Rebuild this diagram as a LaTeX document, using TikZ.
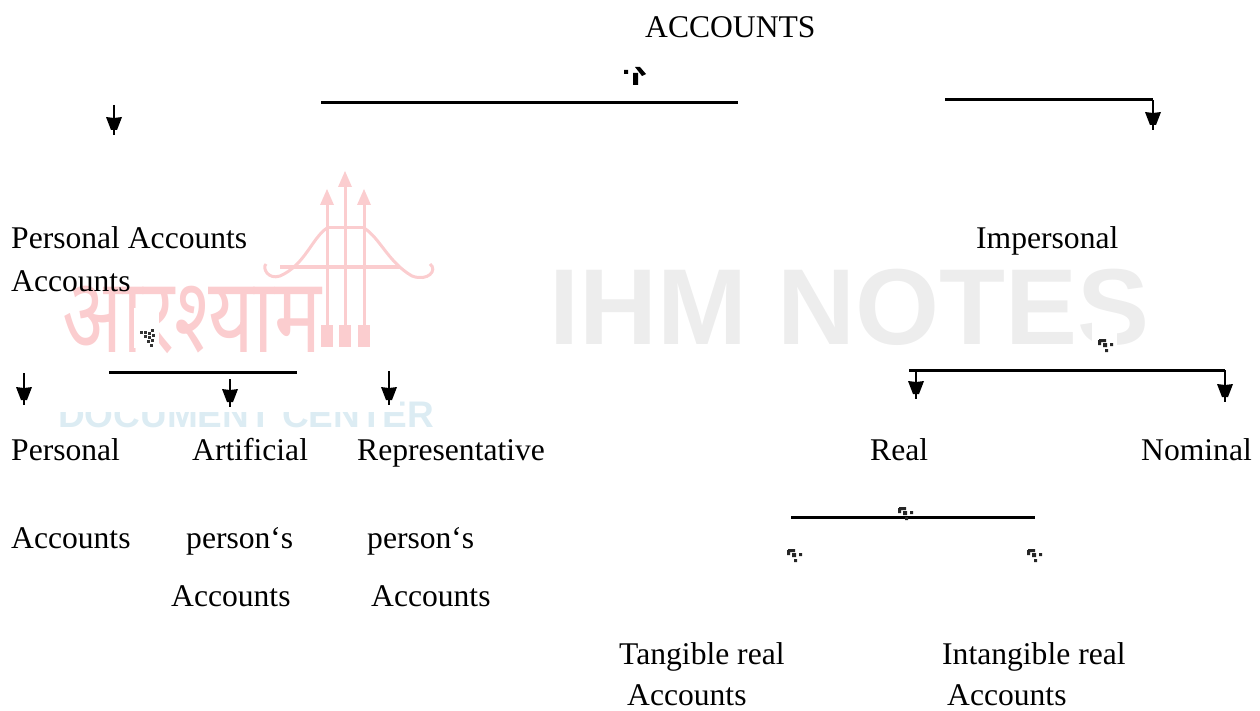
\documentclass[tikz,border=0pt]{standalone}
\usepackage{fontspec}
\setmainfont{Liberation Serif}
\newfontfamily\marksans{Liberation Sans}
\newfontfamily\markdeva[Script=Devanagari]{Noto Sans}

\definecolor{markgrey}{HTML}{EDEDED}
\definecolor{markpink}{HTML}{FBCDCF}
\definecolor{markblue}{HTML}{DCECF3}

\tikzset{
	lbl/.style = {anchor = base west, inner sep = 0pt, font = \fontsize{31.6}{36}\selectfont},
	bar/.style = {line width = 3pt},
	stem/.style = {line width = 2pt},
	bowline/.style = {draw = markpink, line width = 3pt}
}

% a broken little arrow mark, as the scan has them
\newcommand{\speck}[2]{
	\fill [black!85] (#1-6,#2-4) rectangle ++(7,3) (#1-7,#2-3) rectangle ++(3,5) (#1-2,#2) rectangle ++(4,4)
		(#1+5,#2) rectangle ++(3,3) (#1,#2+6) rectangle ++(3,3);
}

\begin{document}
\begin{tikzpicture}[x = 1pt, y = -1pt]
		\useasboundingbox (0,0) rectangle (1260,711);
		
		% watermark
		\node (mark notes) at (549,344) [lbl, text = markgrey, font = \marksans\bfseries\fontsize{108}{108}\selectfont] {IHM NOTES};
		\node (mark name) at (62,352) [lbl, text = markpink, xscale = 0.75, font = \markdeva\bfseries\fontsize{105}{105}\selectfont] {\char"0906\char"0930\char"0936\char"094D\char"092F\char"093E\char"092E};
		\node (mark center) at (58,427) [lbl, text = markblue, font = \marksans\bfseries\fontsize{37}{37}\selectfont] {DOCUMENT CENTER};
		
		\foreach \x/\y in {327/193, 345/175, 364/193} {
			\draw [bowline] (\x,\y) -- (\x,347);
			\fill [markpink] (\x-7,\y+12) -- (\x,\y-4) -- (\x+7,\y+12) -- cycle;
			\fill [markpink] (\x-6,325) rectangle (\x+6,347);
		}
		\draw [bowline] (327,228) -- (364,228);
		\draw [bowline] (327,228) .. controls (312,238) and (305,265) .. (280,276) .. controls (268,280) and (262,268) .. (266,264);
		\draw [bowline] (364,228) .. controls (380,238) and (388,262) .. (412,276) .. controls (428,282) and (438,270) .. (430,264);
		\draw [bowline] (280,267) -- (400,267);
		
		\fill [white] (15,368) rectangle (400,412);
		\fill [white] (134,308) rectangle (159,348);
		\fill [white] (1092,320) rectangle (1117,352);
		
		% labels
		\node (accounts) at (645,38) [lbl] {ACCOUNTS};
		\node (personal top) at (11,248) [lbl] {Personal Accounts};
		\node (personal top b) at (11,291) [lbl] {Accounts};
		\node (impersonal) at (976,248) [lbl] {Impersonal};
		
		\node (personal) at (11,460) [lbl] {Personal};
		\node (artificial) at (192,460) [lbl] {Artificial};
		\node (representative) at (357,460) [lbl] {Representative};
		\node (real) at (870,460) [lbl] {Real};
		\node (nominal) at (1141,460) [lbl] {Nominal};
		
		\node (personal b) at (11,548) [lbl] {Accounts};
		\node (artificial b) at (186,548) [lbl] {person‘s};
		\node (representative b) at (367,548) [lbl] {person‘s};
		\node (artificial c) at (171,606) [lbl] {Accounts};
		\node (representative c) at (371,606) [lbl] {Accounts};
		
		\node (tangible) at (619,664) [lbl] {Tangible real};
		\node (intangible) at (942,664) [lbl] {Intangible real};
		\node (tangible b) at (627,705) [lbl] {Accounts};
		\node (intangible b) at (947,705) [lbl] {Accounts};
		
		% bars
		\coordinate (top left) at (321,103);
		\coordinate (top right) at (738,103);
		\coordinate (right start) at (945,100);
		\coordinate (right corner) at (1153,100);
		\coordinate (left bar a) at (109,372);
		\coordinate (left bar b) at (297,372);
		\coordinate (imp bar a) at (909,370);
		\coordinate (imp bar b) at (1225,370);
		\coordinate (real bar a) at (791,517);
		\coordinate (real bar b) at (1035,517);
		
		\draw [bar] (top left) -- (top right);
		\draw [bar] (right start) -- (right corner);
		\draw [bar] (left bar a) -- (left bar b);
		\draw [bar] (imp bar a) -- (imp bar b);
		\draw [bar] (real bar a) -- (real bar b);
		
		% arrows, each with the stem running past its blunt head
		\foreach \x/\a/\b in {114/105/135, 1153/100/130, 24/373/405, 230/379/407, 389/371/405, 916/370/399, 1225/370/402} {
			\draw [stem] (\x,\a) -- (\x,\b);
			\fill (\x-8,\b-18) -- (\x,\b-17) -- (\x+8,\b-18) -- (\x+3,\b-5) -- (\x-3,\b-5) -- cycle;
		}
		
		% the top mark and the slanted one
		\fill [black] (624,70) rectangle ++(4,4) (633,73) rectangle ++(5,12) (635,67) -- (640,67) -- (646,74) -- (642,76) -- cycle;
		\foreach \x/\y in {140/331, 144/331, 148/332, 151/329, 144/335, 148/336, 152/334, 147/340, 151/339, 150/344} {
			\fill [black!80] (\x,\y) rectangle ++(3,3);
		}
		\speck{1105}{343}
		\speck{905}{511}
		\speck{794}{553}
		\speck{1034}{553}
	\end{tikzpicture}
\end{document}
